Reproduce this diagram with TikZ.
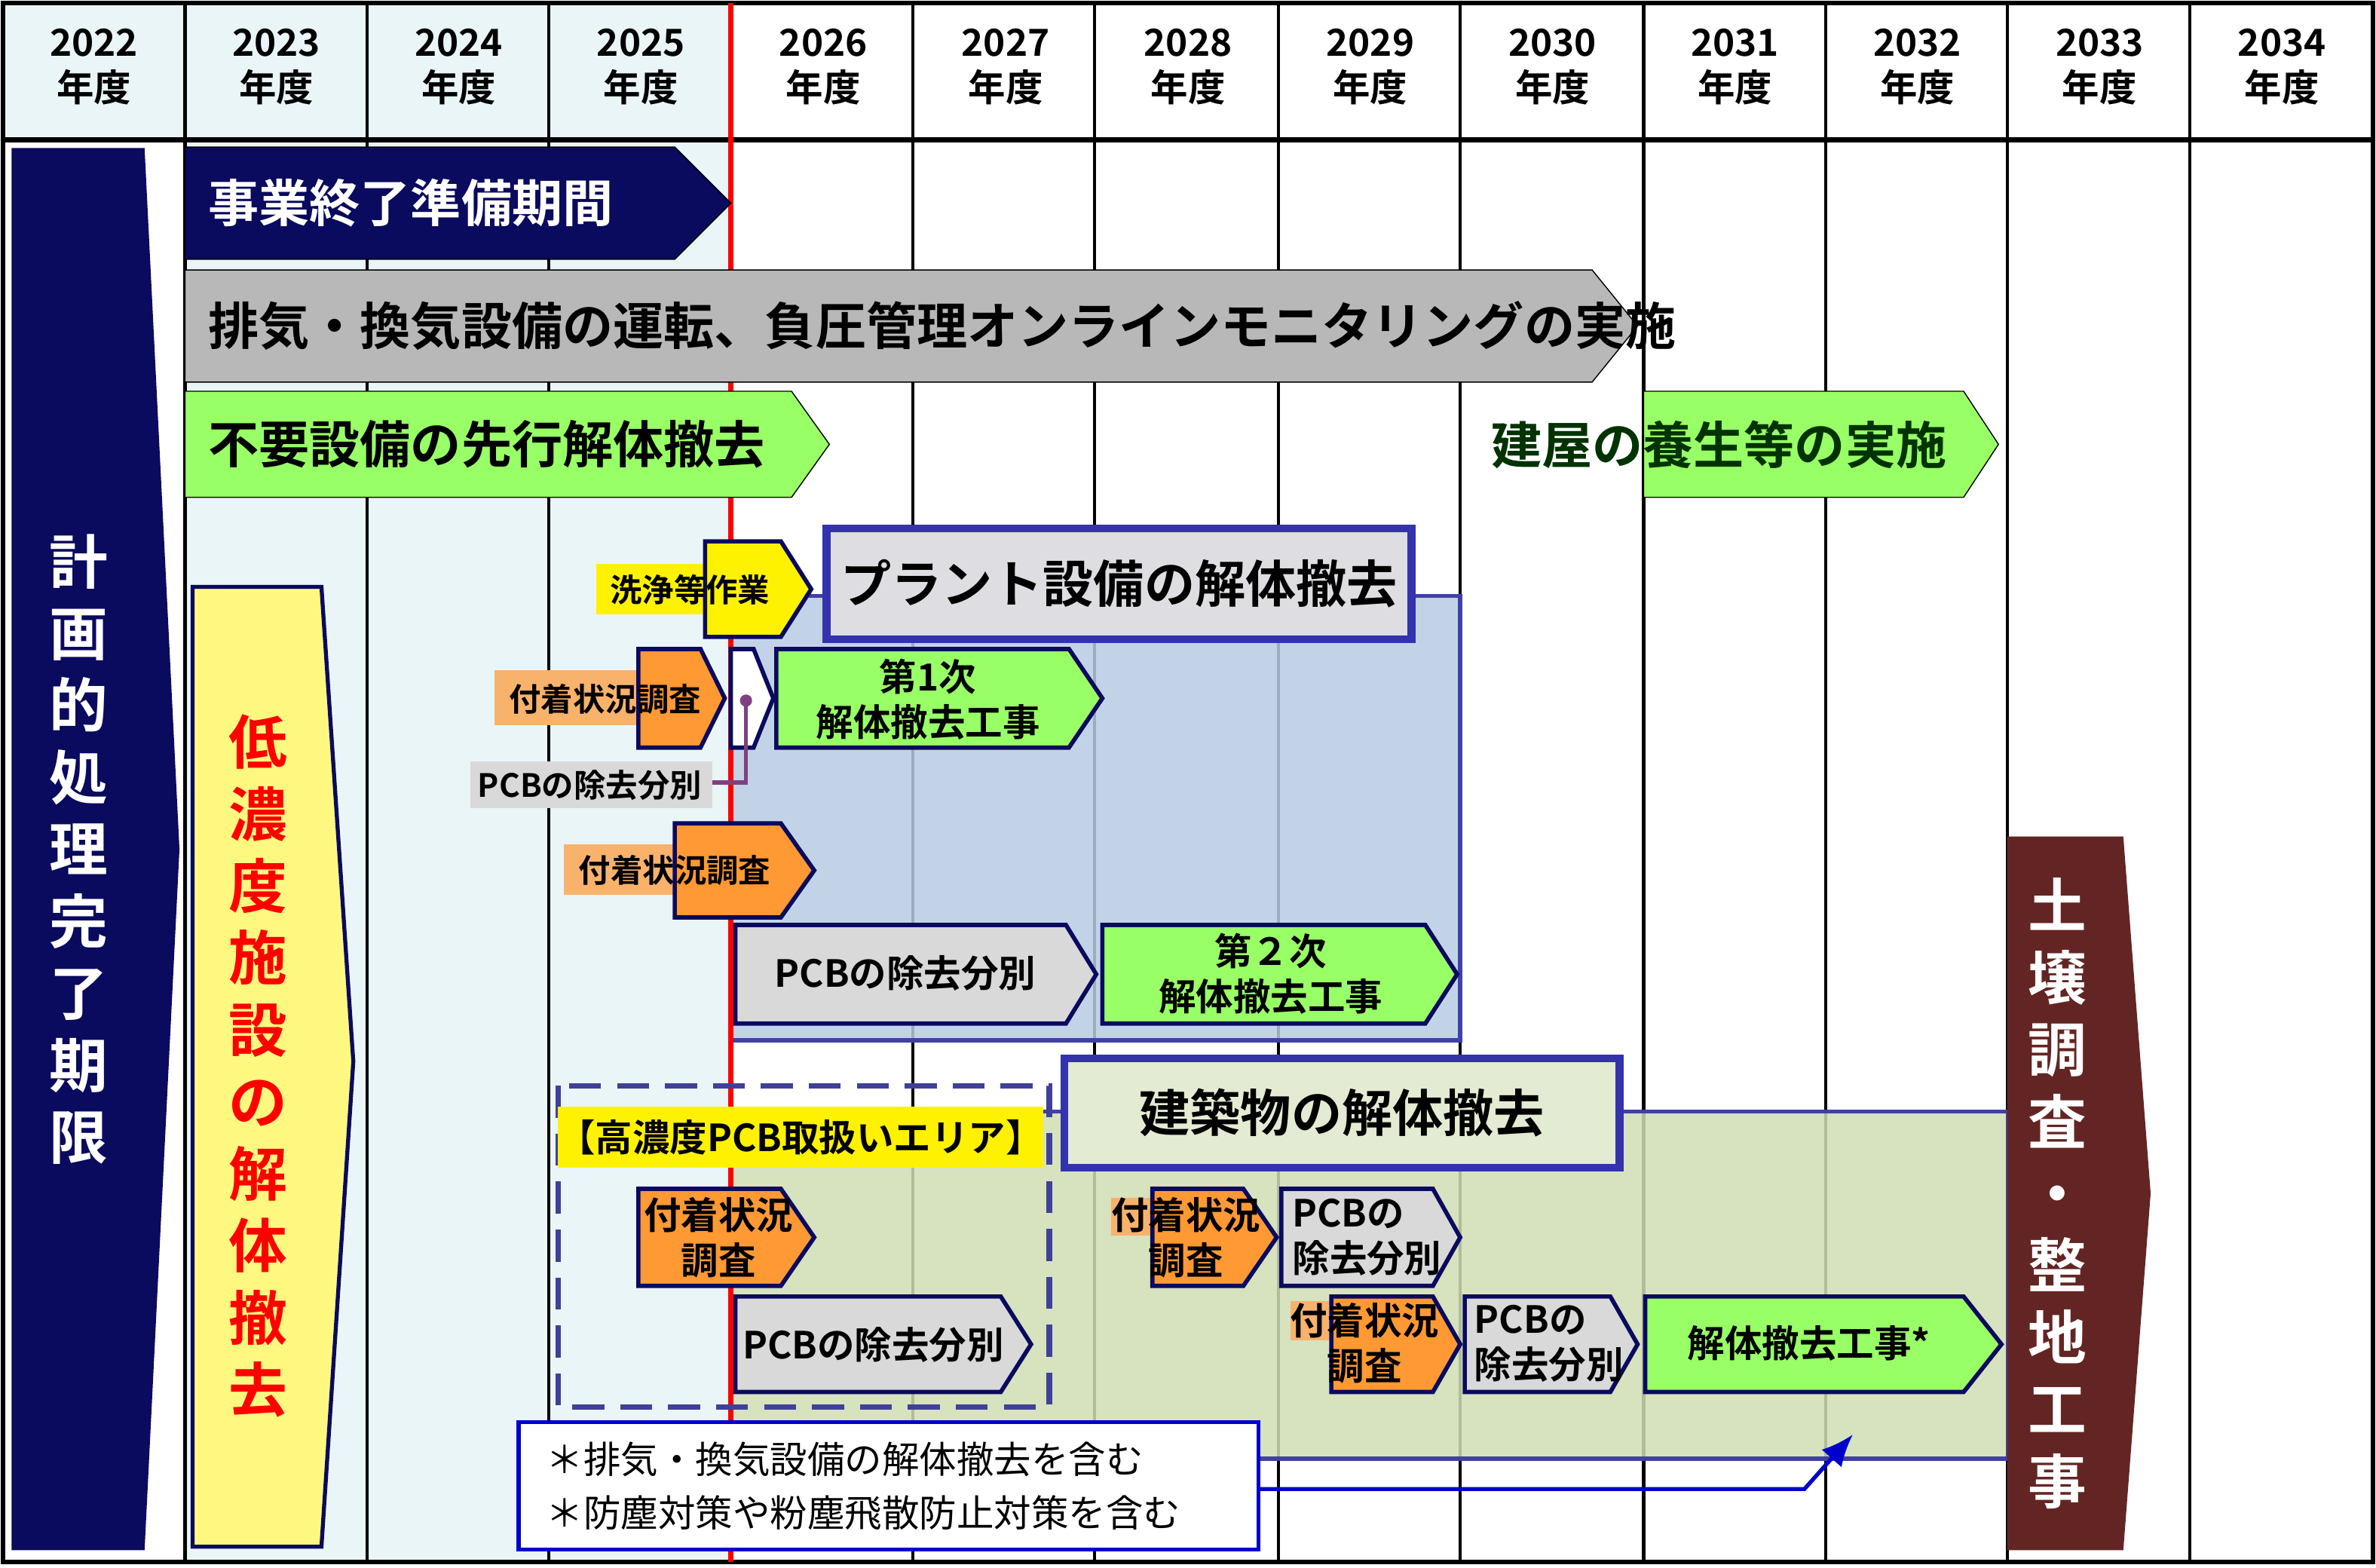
\documentclass[tikz,border=0pt]{standalone}
\usepackage{fontspec}
\usetikzlibrary{arrows.meta}
\setmainfont{Noto Sans CJK JP}[BoldFont={Noto Sans CJK JP Bold}]
\newcommand\harr[7]{\draw[#6] (#1,#2) -- (#5,#2) -- (#3,{(#2+#4)/2}) -- (#5,#4) -- (#1,#4) -- cycle;
 \coordinate (#7) at ({(#1+#5)/2},{(#2+#4)/2});}
\definecolor{navy}{HTML}{0A0A5E}
\definecolor{lb}{HTML}{EAF5F8}
\definecolor{grn}{HTML}{99FF66}
\definecolor{org}{HTML}{FF9933}
\definecolor{lorg}{HTML}{F9B26C}
\definecolor{gry}{HTML}{D9D9D9}
\definecolor{bluereg}{HTML}{B8CCE4}
\definecolor{greenreg}{HTML}{D0DEB4}
\definecolor{brn}{HTML}{632523}
\tikzset{
 txt/.style={font=\bfseries, inner sep=0pt},
 ob/.style={draw=navy, line width=1.6pt, fill=org},
 gb/.style={draw=navy, line width=1.6pt, fill=gry},
 gr/.style={draw=navy, line width=1.6pt, fill=grn},
 sm/.style={txt, font=\bfseries\fontsize{12}{14}\selectfont},
 md/.style={txt, font=\bfseries\fontsize{14}{17}\selectfont, align=center},
 big/.style={txt, font=\bfseries\fontsize{19}{22}\selectfont},
 vert/.style={txt, font=\bfseries\fontsize{22}{27}\selectfont, align=center},
}
\begin{document}
\begin{tikzpicture}[x=0.02cm,y=-0.02cm]
\useasboundingbox (0,0) rectangle (1567,1034);
\fill[white] (0,0) rectangle (1567,1034);
\fill[lb] (2,2) rectangle (482,92);
\fill[lb] (122,92) rectangle (482,1030);
% grid
\foreach \x in {122,242,362,602,722,843,963,1084,1204,1324,1444}
  \draw[line width=1.2pt] (\x,2) -- (\x,1030);
\foreach \y [count=\i from 0] in {2022,...,2034}
  \node[txt, font=\bfseries\fontsize{14}{17}\selectfont, align=center] (y\y) at ({62+120.25*\i},44) {\y\\年度};
\draw[line width=2pt] (2,92) -- (1565,92);
\draw[line width=1.5pt] (2,2) rectangle (1565,1030);
% regions
\draw[fill=bluereg, fill opacity=0.85, draw=black!20!blue!50!gray, line width=1.5pt] (482,393) rectangle (963,686);
\draw[fill=greenreg, fill opacity=0.85, draw=black!20!blue!50!gray, line width=1.5pt] (482,733) rectangle (1324,962);
\draw[red, line width=2pt] (482,2) -- (482,1030);
% title boxes
\node[draw=black!20!blue!60!gray, line width=3pt, fill=blue!8!gray!25, minimum width=386*0.02cm, minimum height=73*0.02cm, big] (plant) at (738,385) {プラント設備の解体撤去};
\node[draw=black!20!blue!60!gray, line width=3pt, fill=greenreg!60, minimum width=366*0.02cm, minimum height=72*0.02cm, big] (bldg) at (885,734) {建築物の解体撤去};
\draw[dashed, draw=black!30!blue!50!gray, line width=2pt, dash pattern=on 12pt off 6pt] (368,716) rectangle (692,928);
% left big arrows
\draw[fill=navy, draw=navy] (8,98) -- (95,98) -- (118,560) -- (95,1022) -- (8,1022) -- cycle;
\node[vert, white] (keikaku) at (52,560) {計\\画\\的\\処\\理\\完\\了\\期\\限};
\draw[fill=yellow!50, draw=navy, line width=1.5pt] (127,387) -- (212,387) -- (233,700) -- (212,1020) -- (127,1020) -- cycle;
\node[vert, red] (tei) at (170,703) {低\\濃\\度\\施\\設\\の\\解\\体\\撤\\去};
\draw[fill=brn, draw=brn] (1324,552) -- (1400,552) -- (1418,787) -- (1400,1022) -- (1324,1022) -- cycle;
\node[vert, white] (dojo) at (1357,787) {土\\壌\\調\\査\\・\\整\\地\\工\\事};
% top bands
\harr{122}{97}{482}{171}{445}{fill=navy}{a1}
\node[big, white, anchor=west] (t1) at (137,134) {事業終了準備期間};
\harr{122}{178}{1080}{252}{1050}{fill=black!28}{a2}
\node[big, anchor=west] (t2) at (137,215) {排気・換気設備の運転、負圧管理オンラインモニタリングの実施};
\harr{122}{258}{547}{328}{522}{fill=grn}{a3}
\node[big, anchor=west] (t3) at (137,293) {不要設備の先行解体撤去};
\harr{1084}{258}{1318}{328}{1295}{fill=grn}{a4}
\node[big, anchor=west, text=green!20!black] (t4) at (983,293) {建屋の養生等の実施};
% plant row
\fill[yellow] (393,372) rectangle (465,405);
\harr{465}{357}{535}{420}{515}{draw=navy, line width=1.6pt, fill=yellow}{a5}
\node[sm] (t5) at (455,389) {洗浄等作業};
\fill[lorg] (326,442) rectangle (421,478);
\harr{421}{428}{478}{493}{462}{ob}{a6}
\node[sm] (t6) at (399,461) {付着状況調査};
\harr{482}{428}{510}{493}{497}{draw=navy, line width=1.6pt, fill=white}{a7}
\fill[gry] (310,502) rectangle (470,533);
\node[sm] (t7) at (389,518) {PCBの除去分別};
\draw[draw=violet!50!gray, line width=1.5pt] (492,462) -- (492,516) -- (470,516);
\fill[violet!50!gray] (492,462) circle (4);
\harr{512}{428}{727}{493}{705}{gr}{a8}
\node[md] (t8) at (612,461) {第1次\\解体撤去工事};
\fill[lorg] (372,557) rectangle (445,590);
\harr{445}{543}{537}{605}{515}{ob}{a9}
\node[sm] (t9) at (445,574) {付着状況調査};
\harr{485}{610}{723}{675}{703}{gb}{a10}
\node[md] (t10) at (597,642) {PCBの除去分別};
\harr{727}{610}{961}{675}{940}{gr}{a11}
\node[md] (t11) at (838,642) {第２次\\解体撤去工事};
% building row
\node[fill=yellow, md, minimum width=312*0.02cm, minimum height=40*0.02cm] (t12) at (528,750) {【高濃度PCB取扱いエリア】};
\harr{421}{784}{537}{848}{515}{ob}{a13}
\node[md] (t13) at (474,816) {付着状況\\調査};
\harr{485}{855}{680}{918}{660}{gb}{a14}
\node[md] (t14) at (576,887) {PCBの除去分別};
\fill[lorg] (733,790) rectangle (760,815);
\harr{760}{784}{842}{848}{820}{ob}{a15}
\node[md] (t15) at (782,816) {付着状況\\調査};
\harr{845}{784}{963}{848}{945}{gb}{a16}
\node[md, align=left, anchor=west] (t16) at (852,816) {PCBの\\除去分別};
\fill[lorg] (851,858) rectangle (878,884);
\harr{878}{855}{963}{918}{945}{ob}{a17}
\node[md] (t17) at (900,886) {付着状況\\調査};
\harr{966}{855}{1080}{918}{1062}{gb}{a18}
\node[md, align=left, anchor=west] (t18) at (972,886) {PCBの\\除去分別};
\harr{1085}{855}{1320}{918}{1295}{gr}{a19}
\node[md] (t19) at (1193,886) {解体撤去工事*};
% legend
\node[draw=blue!80!black, line width=1.5pt, fill=white, minimum width=488*0.02cm, minimum height=84*0.02cm, inner sep=0pt] (leg) at (586,980) {};
\node[txt, font=\fontsize{14}{20}\selectfont, align=left, anchor=west] (legt) at (360,980) {＊排気・換気設備の解体撤去を含む\\＊防塵対策や粉塵飛散防止対策を含む};
\coordinate (lc) at (1190,982);
\coordinate (lt) at (1222,946);
\draw[blue!80!black, line width=1.5pt, -{Latex[length=12pt,width=10pt]}] (leg.east |- 0,982) -- (lc) -- (lt);
\end{tikzpicture}
\end{document}
